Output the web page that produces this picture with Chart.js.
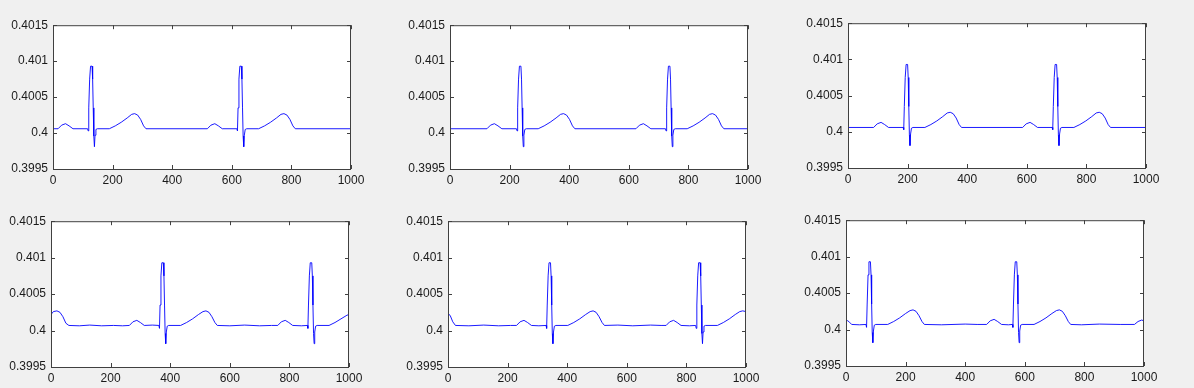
<!DOCTYPE html>
<html>
<head>
<meta charset="utf-8">
<script src="https://cdn.jsdelivr.net/npm/chart.js@4.4.1/dist/chart.umd.min.js"></script>
<style>
  html, body { margin: 0; padding: 0; background: #f0f0f0; }
  body { width: 1194px; height: 388px; position: relative; overflow: hidden; }
  canvas { position: absolute; }
</style>
</head>
<body>
<canvas id="c1"></canvas>
<canvas id="c2"></canvas>
<canvas id="c3"></canvas>
<canvas id="c4"></canvas>
<canvas id="c5"></canvas>
<canvas id="c6"></canvas>
<script>
// axis ticks (same on every subplot)
const xTicks = [0, 200, 400, 600, 800, 1000];
const yTicks = [0.3995, 0.4, 0.4005, 0.401, 0.4015];
const yTickLabels = ['0.3995', '0.4', '0.4005', '0.401', '0.4015'];

// subplot 1 (top left)
const xs1 = [0, 17, 29, 42, 54, 67, 116, 118, 120, 123, 126, 131, 133, 135, 137, 139, 141, 144, 149,
  189, 209, 229, 249, 264, 274, 284, 294, 304, 312,
  518, 530, 543, 555, 568, 617, 619, 621, 624, 627, 632, 634, 636, 638, 640, 642, 645, 650,
  690, 710, 730, 750, 765, 775, 785, 795, 805, 813, 1000];
const ys1 = [0.40006, 0.40006, 0.40011, 0.40013, 0.40010, 0.40006, 0.40006, 0.40003, 0.40035, 0.40075, 0.40093, 0.40093, 0.40075, 0.40035, 0.39996, 0.39981, 0.39997, 0.40005, 0.40006,
  0.40006, 0.40010, 0.40015, 0.40021, 0.40026, 0.40027, 0.40025, 0.40019, 0.40010, 0.40006,
  0.40006, 0.40011, 0.40013, 0.40010, 0.40006, 0.40006, 0.40003, 0.40035, 0.40075, 0.40093, 0.40093, 0.40075, 0.40035, 0.39996, 0.39981, 0.39997, 0.40005, 0.40006,
  0.40006, 0.40010, 0.40015, 0.40021, 0.40026, 0.40027, 0.40025, 0.40019, 0.40010, 0.40006, 0.40006];

// subplot 2 (top middle)
const xs2 = [0, 124, 136, 149, 161, 174, 223, 225, 227, 230, 233, 238, 240, 242, 244, 246, 248, 251, 256,
  296, 316, 336, 356, 371, 381, 391, 401, 411, 419,
  624, 636, 649, 661, 674, 723, 725, 727, 730, 733, 738, 740, 742, 744, 746, 748, 751, 756,
  796, 816, 836, 856, 871, 881, 891, 901, 911, 919, 1000];
const ys2 = [0.40006, 0.40006, 0.40011, 0.40013, 0.40010, 0.40006, 0.40006, 0.40003, 0.40035, 0.40075, 0.40093, 0.40093, 0.40075, 0.40035, 0.39996, 0.39981, 0.39997, 0.40005, 0.40006,
  0.40006, 0.40010, 0.40015, 0.40021, 0.40026, 0.40027, 0.40025, 0.40019, 0.40010, 0.40006,
  0.40006, 0.40011, 0.40013, 0.40010, 0.40006, 0.40006, 0.40003, 0.40035, 0.40075, 0.40093, 0.40093, 0.40075, 0.40035, 0.39996, 0.39981, 0.39997, 0.40005, 0.40006,
  0.40006, 0.40010, 0.40015, 0.40021, 0.40026, 0.40027, 0.40025, 0.40019, 0.40010, 0.40006, 0.40006];

// subplot 3 (top right)
const xs3 = [0, 86, 98, 111, 123, 136, 185, 187, 189, 192, 195, 200, 202, 204, 206, 208, 210, 213, 218,
  258, 278, 298, 318, 333, 343, 353, 363, 373, 381,
  586, 598, 611, 623, 636, 685, 687, 689, 692, 695, 700, 702, 704, 706, 708, 710, 713, 718,
  758, 778, 798, 818, 833, 843, 853, 863, 873, 881, 1000];
const ys3 = [0.40006, 0.40006, 0.40011, 0.40013, 0.40010, 0.40006, 0.40006, 0.40003, 0.40035, 0.40075, 0.40093, 0.40093, 0.40075, 0.40035, 0.39996, 0.39981, 0.39997, 0.40005, 0.40006,
  0.40006, 0.40010, 0.40015, 0.40021, 0.40026, 0.40027, 0.40025, 0.40019, 0.40010, 0.40006,
  0.40006, 0.40011, 0.40013, 0.40010, 0.40006, 0.40006, 0.40003, 0.40035, 0.40075, 0.40093, 0.40093, 0.40075, 0.40035, 0.39996, 0.39981, 0.39997, 0.40005, 0.40006,
  0.40006, 0.40010, 0.40015, 0.40021, 0.40026, 0.40027, 0.40025, 0.40019, 0.40010, 0.40006, 0.40006];

// subplot 4 (bottom left)
const xs4 = [0, 8, 20, 30, 40, 50, 60, 95, 130, 170, 210, 240,
  263, 275, 288, 300, 313, 340, 362, 364, 366, 369, 372, 377, 379, 381, 383, 385, 387, 390, 395,
  435, 455, 475, 495, 510, 520, 530, 540, 550, 558, 600, 650, 700, 740,
  761, 773, 786, 798, 811, 840, 860, 862, 864, 867, 870, 875, 877, 879, 881, 883, 885, 888, 893,
  933, 953, 973, 993, 1000];
const ys4 = [0.40022, 0.40026, 0.40027, 0.40025, 0.40019, 0.40010, 0.40007, 0.400065, 0.400075, 0.400065, 0.40007, 0.400065,
  0.40007, 0.40012, 0.40014, 0.40011, 0.40007, 0.400075, 0.40007, 0.40003, 0.40035, 0.40075, 0.40093, 0.40093, 0.40075, 0.40035, 0.39996, 0.39982, 0.39998, 0.40006, 0.40007,
  0.40007, 0.40011, 0.40016, 0.40022, 0.40026, 0.40027, 0.40025, 0.40019, 0.40011, 0.40007, 0.400065, 0.400075, 0.400065, 0.40007,
  0.40007, 0.40012, 0.40014, 0.40011, 0.40007, 0.400065, 0.40007, 0.40003, 0.40035, 0.40075, 0.40093, 0.40093, 0.40075, 0.40035, 0.39996, 0.39982, 0.39998, 0.40006, 0.40007,
  0.40007, 0.40011, 0.40016, 0.40021, 0.40022];

// subplot 5 (bottom middle)
const xs5 = [0, 8, 16, 25, 70, 120, 170, 210,
  230, 242, 255, 267, 280, 305, 329, 331, 333, 336, 339, 344, 346, 348, 350, 352, 354, 357, 362,
  402, 422, 442, 462, 477, 487, 497, 507, 517, 525, 570, 620, 680, 715,
  732, 744, 757, 769, 782, 810, 831, 833, 835, 838, 841, 846, 848, 850, 852, 854, 856, 859, 864,
  904, 924, 944, 964, 979, 989, 1000];
const ys5 = [0.40024, 0.40020, 0.40012, 0.40007, 0.400065, 0.400075, 0.400065, 0.40007,
  0.40007, 0.40012, 0.40014, 0.40011, 0.40007, 0.400065, 0.40007, 0.40003, 0.40035, 0.40075, 0.40093, 0.40093, 0.40075, 0.40035, 0.39996, 0.39982, 0.39998, 0.40006, 0.40007,
  0.40007, 0.40011, 0.40016, 0.40022, 0.40026, 0.40027, 0.40025, 0.40019, 0.40011, 0.40007, 0.400075, 0.400065, 0.400075, 0.40007,
  0.40007, 0.40012, 0.40014, 0.40011, 0.40007, 0.400065, 0.40007, 0.40003, 0.40035, 0.40075, 0.40093, 0.40093, 0.40075, 0.40035, 0.39996, 0.39982, 0.39998, 0.40006, 0.40007,
  0.40007, 0.40011, 0.40016, 0.40022, 0.40026, 0.40027, 0.40026];

// subplot 6 (bottom right)
const xs6 = [0, 6, 12, 19, 45, 67, 69, 71, 74, 77, 82, 84, 86, 88, 90, 92, 95, 100,
  140, 160, 180, 200, 215, 225, 235, 245, 255, 263, 320, 400, 440,
  472, 484, 497, 509, 522, 545, 558, 560, 562, 565, 568, 573, 575, 577, 579, 581, 583, 586, 591,
  631, 651, 671, 691, 706, 716, 726, 736, 746, 754, 790, 850, 920,
  968, 980, 992, 1000];
const ys6 = [0.40013, 0.40012, 0.40010, 0.40007, 0.400065, 0.40007, 0.40003, 0.40035, 0.40075, 0.40093, 0.40093, 0.40075, 0.40035, 0.39996, 0.39982, 0.39998, 0.40006, 0.40007,
  0.40007, 0.40011, 0.40016, 0.40022, 0.40026, 0.40027, 0.40025, 0.40019, 0.40011, 0.40007, 0.400065, 0.400075, 0.40007,
  0.40007, 0.40012, 0.40014, 0.40011, 0.40007, 0.400065, 0.40007, 0.40003, 0.40035, 0.40075, 0.40093, 0.40093, 0.40075, 0.40035, 0.39996, 0.39982, 0.39998, 0.40006, 0.40007,
  0.40007, 0.40011, 0.40016, 0.40022, 0.40026, 0.40027, 0.40025, 0.40019, 0.40011, 0.40007, 0.400065, 0.400075, 0.40007,
  0.40007, 0.40011, 0.40013, 0.40012];

// plot boxes in page pixels: left, top, right, bottom
const boxes = [
  [53, 23, 351, 169],
  [450, 23, 748, 169],
  [848, 21, 1146, 168],
  [51, 219, 349, 367],
  [448, 219, 746, 367],
  [846, 218, 1144, 366]
];
const seriesX = [xs1, xs2, xs3, xs4, xs5, xs6];
const seriesY = [ys1, ys2, ys3, ys4, ys5, ys6];

const PAD_L = 50, PAD_T = 10, PAD_R = 25, X_AXIS_H = 20, PAD_B = 10;
const axisColor = '#404040';
const tickFont = { family: 'Liberation Sans, Arial, sans-serif', size: 12 };

// white axes background, box and inward ticks like matlab
const framePlugin = {
  id: 'frame',
  beforeDraw(chart) {
    const a = chart.chartArea, ctx = chart.ctx;
    ctx.save();
    ctx.fillStyle = '#ffffff';
    ctx.fillRect(a.left, a.top, a.right - a.left, a.bottom - a.top);
    ctx.restore();
  },
  afterDatasetsDraw(chart) {
    const a = chart.chartArea, ctx = chart.ctx;
    const sx = chart.scales.x, sy = chart.scales.y;
    ctx.save();
    ctx.strokeStyle = axisColor;
    ctx.lineWidth = 1;
    ctx.beginPath();
    xTicks.forEach(v => {
      const px = Math.round(sx.getPixelForValue(v)) + 0.5;
      ctx.moveTo(px, a.bottom); ctx.lineTo(px, a.bottom - 4);
      ctx.moveTo(px, a.top); ctx.lineTo(px, a.top + 4);
    });
    yTicks.forEach(v => {
      const py = Math.round(sy.getPixelForValue(v)) + 0.5;
      ctx.moveTo(a.left, py); ctx.lineTo(a.left + 4, py);
      ctx.moveTo(a.right, py); ctx.lineTo(a.right - 4, py);
    });
    ctx.stroke();
    ctx.strokeRect(a.left + 0.5, a.top + 0.5, a.right - a.left - 1, a.bottom - a.top);
    ctx.restore();
  }
};

boxes.forEach((b, i) => {
  const cv = document.getElementById('c' + (i + 1));
  const w = b[2] - b[0] + PAD_L + PAD_R;
  const h = b[3] - b[1] + PAD_T + X_AXIS_H + PAD_B;
  cv.width = w; cv.height = h;
  cv.style.left = (b[0] - PAD_L) + 'px';
  cv.style.top = (b[1] - PAD_T) + 'px';
  cv.style.width = w + 'px'; cv.style.height = h + 'px';

  const pts = seriesX[i].map((x, k) => ({ x: x, y: seriesY[i][k] }));

  new Chart(cv.getContext('2d'), {
    type: 'line',
    data: {
      datasets: [{
        data: pts,
        borderColor: '#0000ff',
        borderWidth: 0.9,
        pointRadius: 0,
        tension: 0,
        fill: false
      }]
    },
    options: {
      responsive: false,
      animation: false,
      devicePixelRatio: 1,
      layout: { padding: { left: 0, top: PAD_T, right: PAD_R, bottom: PAD_B } },
      plugins: { legend: { display: false }, tooltip: { enabled: false } },
      scales: {
        x: {
          type: 'linear',
          min: 0, max: 1000,
          afterBuildTicks: s => { s.ticks = xTicks.map(v => ({ value: v })); },
          afterFit: s => { s.height = X_AXIS_H; },
          grid: { display: false, drawTicks: false },
          border: { display: false },
          ticks: {
            padding: 4,
            maxRotation: 0,
            autoSkip: false,
            color: '#1a1a1a',
            font: tickFont,
            callback: v => String(v)
          }
        },
        y: {
          type: 'linear',
          min: 0.3995, max: 0.4015,
          afterBuildTicks: s => { s.ticks = yTicks.map(v => ({ value: v })); },
          afterFit: s => { s.width = PAD_L; },
          grid: { display: false, drawTicks: false },
          border: { display: false },
          ticks: {
            padding: 5,
            autoSkip: false,
            color: '#1a1a1a',
            font: tickFont,
            callback: (v, idx) => yTickLabels[idx]
          }
        }
      }
    },
    plugins: [framePlugin]
  });
});
</script>
</body>
</html>
